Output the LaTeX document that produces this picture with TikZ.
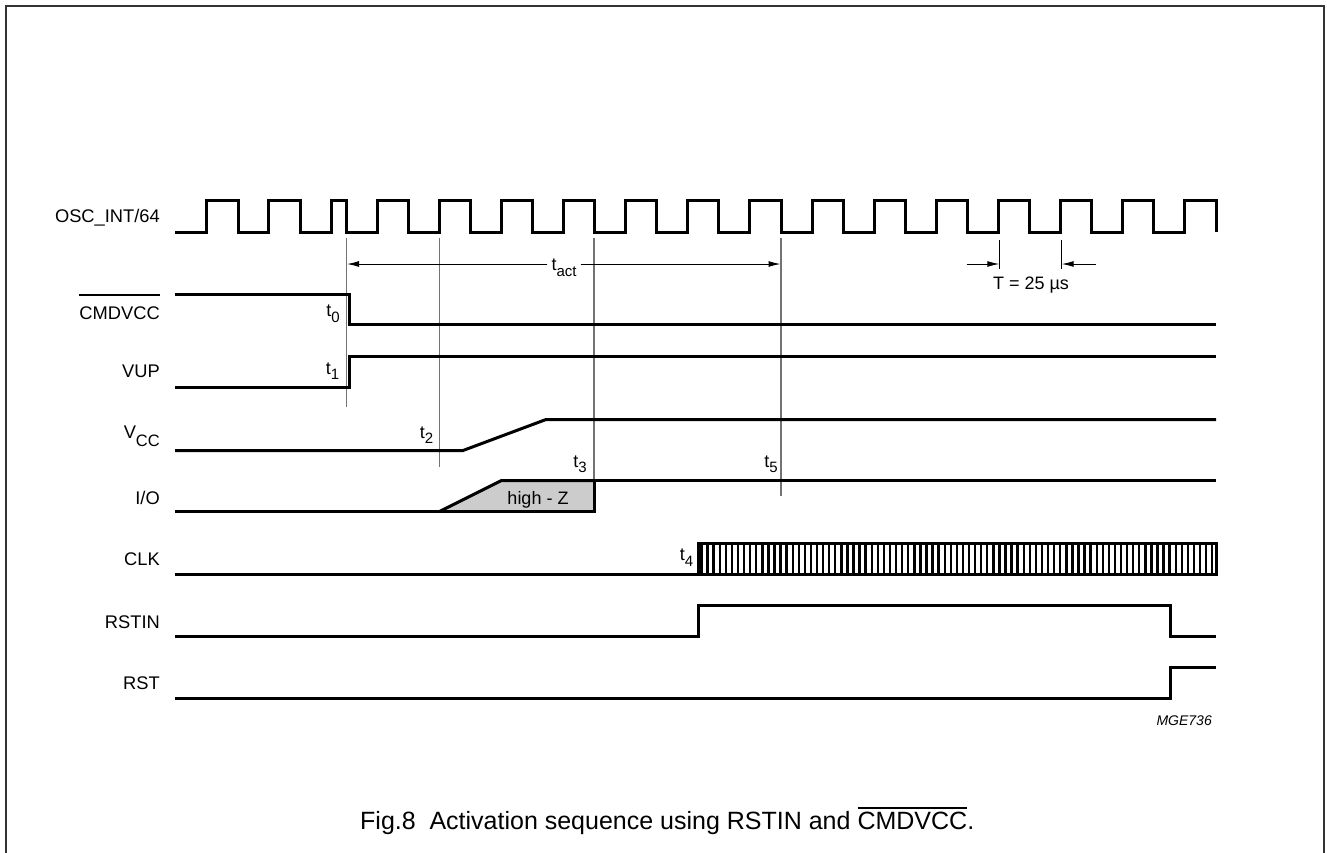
\documentclass[tikz,border=0pt]{standalone}
\usepackage{fontspec}
\setmainfont{Liberation Sans}
\usetikzlibrary{arrows.meta}
\newcommand\ovlbar[2]{\leavevmode\setbox0\hbox{#2}\rlap{\raise\dimexpr\ht0+#1\relax\hbox{\rule{\wd0}{1.3pt}}}\box0}
\newcommand\sbx[1]{\raisebox{-5.5pt}{\fontsize{15}{15}\selectfont #1}}
\newcommand\sbv[1]{\raisebox{-8pt}{\fontsize{16.5}{16.5}\selectfont #1}}
\tikzset{
  sig/.style={line width=3pt, line join=miter, line cap=butt},
  marker/.style={line width=1.2pt, draw=black!55},
  lbl/.style={anchor=base east, inner sep=0pt, font=\fontsize{18.3}{20}\selectfont},
  tlbl/.style={anchor=base east, inner sep=0pt, font=\fontsize{18}{20}\selectfont},
  dimarr/.style={line width=1pt, -{Latex[length=12pt,width=6pt]}},
  tick/.style={line width=1pt},
  hatch/.style={line width=2.4pt},
}
\begin{document}
\begin{tikzpicture}[x=1pt,y=-1pt]
\useasboundingbox (0,0) rectangle (1327,852);
% frame
\draw[line width=1.8pt, black!80] (6,880) -- (6,6) -- (1324,6) -- (1324,880);

% signal labels
\node[lbl] (lOSC) at (160,222.7) {OSC\_INT/64};
\node[lbl] (lCMD) at (160,319.3) {\ovlbar{11pt}{CMDVCC}};
\node[lbl] (lVUP) at (160,377.7) {VUP};
\node[lbl] (lVCC) at (160,438.3) {V\sbv{CC}};
\node[lbl] (lIO) at (160,504.3) {I/O};
\node[lbl] (lCLK) at (160,565) {CLK};
\node[lbl] (lRSTIN) at (160,628.3) {RSTIN};
\node[lbl] (lRST) at (160,689.3) {RST};

% marker lines
\draw[marker] (346.5,238) -- (346.5,406.7);
\draw[marker] (439.5,238) -- (439.5,467);
\draw[marker] (594,238) -- (594,480);
\draw[marker] (781,238) -- (781,496);

% OSC_INT/64
\draw[sig] (175,232) -- (206,232) -- (206,200) -- (238,200) -- (238,232) -- (268,232) -- (268,200) -- (300,200) -- (300,232) -- (331,232) -- (331,200) -- (346,200) -- (346,232)
  \foreach \k in {0,...,13} { -- ({377.07+62.143*\k},232) -- ({377.07+62.143*\k},200) -- ({408.14+62.143*\k},200) -- ({408.14+62.143*\k},232) };

% CMDVCC
\draw[sig] (175,294.5) -- (349.5,294.5) -- (349.5,324) -- (1216,324);
% VUP
\draw[sig] (175,387) -- (349.5,387) -- (349.5,356) -- (1216,356);
% VCC
\draw[sig] (175,450.5) -- (463,450.5) -- (546,419.5) -- (1216,419.5);
% I/O
\fill[black!20] (439.5,511.5) -- (501.5,480.5) -- (594,480.5) -- (594,511.5) -- cycle;
\draw[sig] (175,511.5) -- (594,511.5) -- (594,480.5) -- (1216,480.5);
\draw[sig] (439.5,511.5) -- (501.5,480.5) -- (594,480.5);
\node[anchor=base, inner sep=0pt, font=\fontsize{18}{20}\selectfont] (hz) at (538,504) {high - Z};
% CLK
\draw[sig] (175,574) -- (698,574);
\foreach \i in {0,...,84} \draw[hatch] ({701.5+6.08*\i},545) -- ++(0,27.5);
\draw[sig] (698,543.5) rectangle (1216,574);
% RSTIN
\draw[sig] (175,636.5) -- (698,636.5) -- (698,605.5) -- (1170,605.5) -- (1170,636.5) -- (1216,636.5);
% RST
\draw[sig] (175,698) -- (1170,698) -- (1170,667.5) -- (1216,667.5);

% time labels
\node[tlbl] (t0) at (340,316.7) {t\sbx{0}};
\node[tlbl] (t1) at (339.5,374) {t\sbx{1}};
\node[tlbl] (t2) at (433.5,438.3) {t\sbx{2}};
\node[tlbl] (t3) at (587,467.3) {t\sbx{3}};
\node[tlbl] (t5) at (778,467.3) {t\sbx{5}};
\node[tlbl] (t4) at (693.5,560.7) {t\sbx{4}};

% t_act
\coordinate (a0) at (347,264);
\coordinate (a5) at (780.5,264);
\node[anchor=base, inner ysep=0pt, inner xsep=4pt, font=\fontsize{18}{20}\selectfont] (tact) at (564,270.7) {t\sbx{act}};
\draw[dimarr] (tact.west |- a0) -- (a0);
\draw[dimarr] (tact.east |- a5) -- (a5);

% T = 25 us
\coordinate (Ta) at (999.3,264);
\coordinate (Tb) at (1061.7,264);
\coordinate (Tla) at (966.5,264);
\coordinate (Tlb) at (1096,264);
\draw[tick] (999.3,240) -- (999.3,268.5);
\draw[tick] (1061.7,240) -- (1061.7,268.5);
\draw[dimarr] (Tla) -- (Ta);
\draw[dimarr] (Tlb) -- (Tb);
\node[anchor=base, inner sep=0pt, font=\fontsize{18}{20}\selectfont] (Tlbl) at (1031,289.3) {T = 25 µs};

% figure code
\node[anchor=base east, inner sep=0pt, font=\fontsize{14}{16}\selectfont\itshape] (mge) at (1212,725) {MGE736};

% caption
\node[anchor=base west, inner sep=0pt, font=\fontsize{25}{29}\selectfont] (cap) at (360,829) {Fig.8\hspace{0.55em}Activation sequence using RSTIN and \ovlbar{3pt}{CMDVCC}.};
\end{tikzpicture}
\end{document}
